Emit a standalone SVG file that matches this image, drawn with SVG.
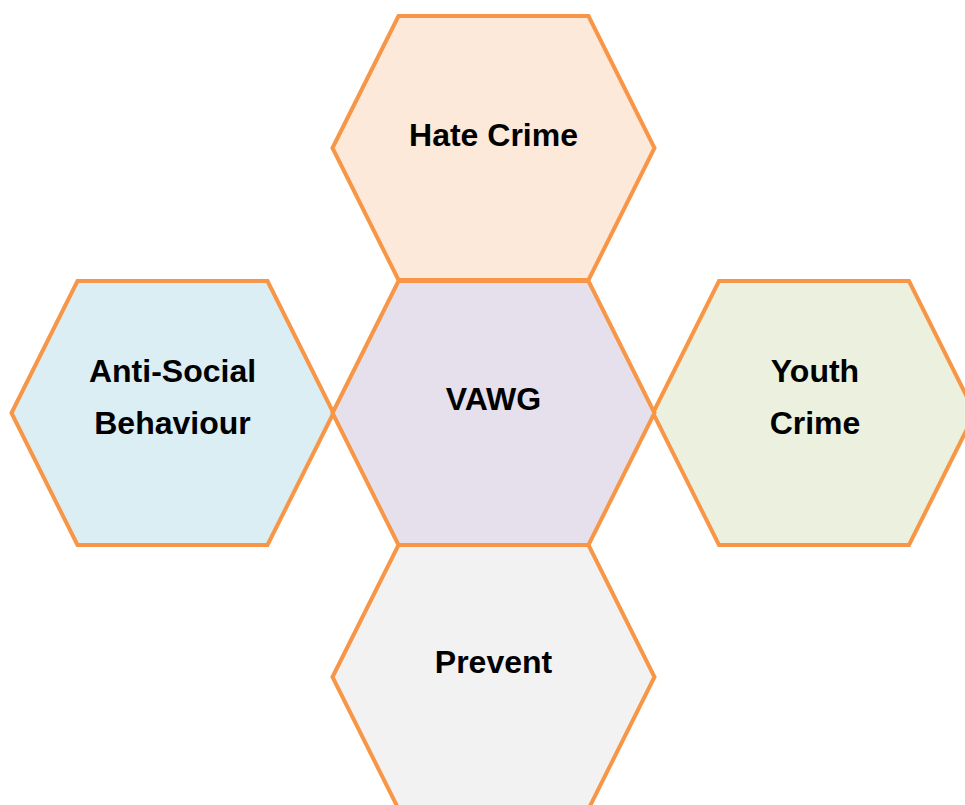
<svg xmlns="http://www.w3.org/2000/svg" width="965" height="805" viewBox="0 0 965 805">
<style>
.hex{stroke:#F79646;stroke-width:4;stroke-linejoin:miter}
.lbl{font-family:"Liberation Sans",Arial,sans-serif;font-weight:bold;font-size:32px;fill:#000;text-anchor:middle}
</style>
<defs>
<polygon id="hx" points="-161,0 -95,-132 95,-132 161,0 95,132 -95,132"/>
</defs>
<rect width="965" height="805" fill="#fff"/>
<g id="hate-crime">
<use href="#hx" class="hex" fill="#FDE9D9" transform="translate(493.5,148)"/>
<text class="lbl" x="493.5" y="146">Hate Crime</text>
</g>
<g id="anti-social">
<use href="#hx" class="hex" fill="#DAEEF3" transform="translate(172.5,413)"/>
<text class="lbl" x="172.5" y="382">Anti-Social</text>
<text class="lbl" x="172.5" y="434">Behaviour</text>
</g>
<g id="youth-crime">
<use href="#hx" class="hex" fill="#EBF1DE" transform="translate(814,413)"/>
<text class="lbl" x="815" y="382">Youth</text>
<text class="lbl" x="815" y="434">Crime</text>
</g>
<g id="prevent">
<use href="#hx" class="hex" fill="#F2F2F2" transform="translate(493.5,677)"/>
<text class="lbl" x="493.5" y="673">Prevent</text>
</g>
<g id="vawg">
<use href="#hx" class="hex" fill="#E5E0EC" transform="translate(493.5,413)"/>
<text class="lbl" x="493.5" y="410">VAWG</text>
</g>
<g id="connectors"/>
</svg>
